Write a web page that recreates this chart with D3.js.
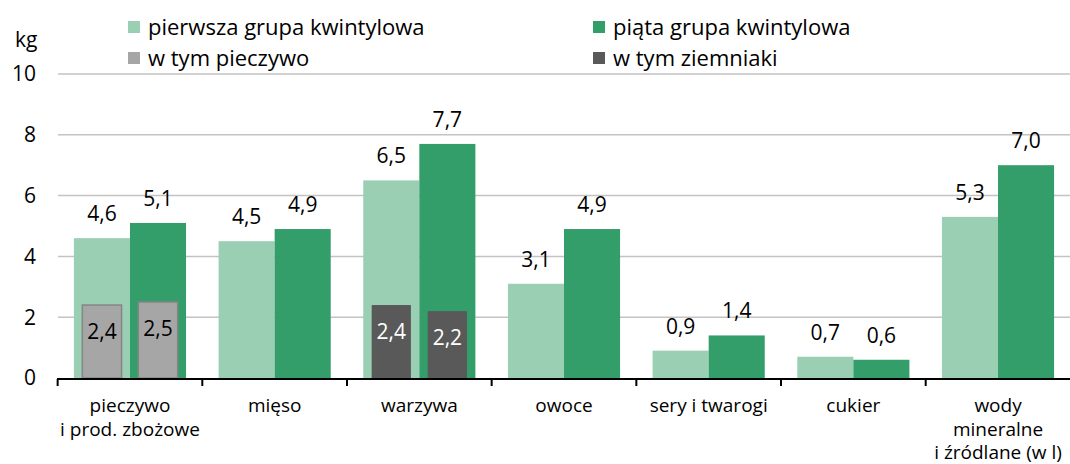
<!DOCTYPE html>
<html>
<head>
<meta charset="utf-8">
<script src="https://cdn.jsdelivr.net/npm/d3@7"></script>
<style>
  body { margin: 0; background: #fff; }
  svg { display: block; font-family: "Open Sans", sans-serif; }
</style>
</head>
<body>
<svg id="chart" width="1070" height="464"></svg>
<script>
// data
let categories = ['pieczywo\ni prod. zbożowe', 'mięso', 'warzywa', 'owoce', 'sery i twarogi', 'cukier', 'wody\nmineralne\ni źródlane (w l)']
let firstQuintile = [4.6, 4.5, 6.5, 3.1, 0.9, 0.7, 5.3]
let fifthQuintile = [5.1, 4.9, 7.7, 4.9, 1.4, 0.6, 7.0]
let breadCategory = 'pieczywo\ni prod. zbożowe'
let breadValues = [2.4, 2.5]
let potatoCategory = 'warzywa'
let potatoValues = [2.4, 2.2]
let yTicks = [0, 2, 4, 6, 8, 10]
let seriesNames = ['pierwsza grupa kwintylowa', 'piąta grupa kwintylowa', 'w tym pieczywo', 'w tym ziemniaki']

let colors = {
    light: '#9acfb4',
    dark: '#339e69',
    bread: '#a6a6a6',
    potato: '#595959'
}

let svg = d3.select('#chart')

let x = d3.scaleBand()
    .domain(categories)
    .range([58, 1070])
    .paddingInner(0.225)
    .paddingOuter(0.11)

let sub = d3.scaleBand()
    .domain(['q1', 'q5'])
    .range([0, x.bandwidth()])

let y = d3.scaleLinear()
    .domain([0, 10])
    .range([378, 74])

let fmt = (v) => d3.format('.1f')(v).replace('.', ',')

// gridlines
svg.append('g')
    .selectAll('line')
    .data(yTicks.filter(t => t > 0))
    .enter()
    .append('line')
    .attr('x1', 58)
    .attr('x2', 1070)
    .attr('y1', d => y(d))
    .attr('y2', d => y(d))
    .attr('stroke', '#c3c3c3')
    .attr('stroke-width', 1.5)

// y tick labels
svg.append('g')
    .selectAll('text')
    .data(yTicks)
    .enter()
    .append('text')
    .attr('x', 36)
    .attr('y', d => y(d))
    .attr('dy', '0.35em')
    .attr('text-anchor', 'end')
    .attr('font-size', 21)
    .attr('fill', '#000')
    .text(d => d)

svg.append('text')
    .attr('x', 15)
    .attr('y', 47)
    .attr('font-size', 21)
    .text('kg')

// main bars
let rows = categories.map((c, i) => ({ cat: c, q1: firstQuintile[i], q5: fifthQuintile[i] }))

let groups = svg.append('g')
    .selectAll('g')
    .data(rows)
    .enter()
    .append('g')
    .attr('transform', d => 'translate(' + x(d.cat) + ',0)')

groups.selectAll('rect')
    .data(d => [{ key: 'q1', value: d.q1 }, { key: 'q5', value: d.q5 }])
    .enter()
    .append('rect')
    .attr('x', d => sub(d.key))
    .attr('y', d => y(d.value))
    .attr('width', sub.bandwidth())
    .attr('height', d => y(0) - y(d.value))
    .attr('fill', d => d.key === 'q1' ? colors.light : colors.dark)

groups.selectAll('text')
    .data(d => [{ key: 'q1', value: d.q1 }, { key: 'q5', value: d.q5 }])
    .enter()
    .append('text')
    .attr('x', d => sub(d.key) + sub.bandwidth() / 2)
    .attr('y', d => y(d.value) - 17)
    .attr('text-anchor', 'middle')
    .attr('font-size', 21)
    .attr('fill', '#000')
    .text(d => fmt(d.value))

// inner bars (w tym ...)
let inner = [
    { cat: breadCategory, key: 'q1', value: breadValues[0], fill: colors.bread, stroke: '#858585', text: '#000' },
    { cat: breadCategory, key: 'q5', value: breadValues[1], fill: colors.bread, stroke: '#858585', text: '#000' },
    { cat: potatoCategory, key: 'q1', value: potatoValues[0], fill: colors.potato, stroke: 'none', text: '#fff' },
    { cat: potatoCategory, key: 'q5', value: potatoValues[1], fill: colors.potato, stroke: 'none', text: '#fff' }
]
let innerW = sub.bandwidth() * 0.7

svg.append('g')
    .selectAll('rect')
    .data(inner)
    .enter()
    .append('rect')
    .attr('x', d => x(d.cat) + sub(d.key) + (sub.bandwidth() - innerW) / 2)
    .attr('y', d => y(d.value))
    .attr('width', innerW)
    .attr('height', d => y(0) - y(d.value))
    .attr('fill', d => d.fill)
    .attr('stroke', d => d.stroke)
    .attr('stroke-width', 1.5)

svg.append('g')
    .selectAll('text')
    .data(inner)
    .enter()
    .append('text')
    .attr('x', d => x(d.cat) + sub(d.key) + sub.bandwidth() / 2)
    .attr('y', d => y(d.value) + 34)
    .attr('text-anchor', 'middle')
    .attr('font-size', 21)
    .attr('fill', d => d.text)
    .text(d => fmt(d.value))

// x axis
let step = x.step()
svg.append('line')
    .attr('x1', 57)
    .attr('x2', 1070)
    .attr('y1', 379)
    .attr('y2', 379)
    .attr('stroke', '#000')
    .attr('stroke-width', 2)

svg.append('g')
    .selectAll('line')
    .data(categories)
    .enter()
    .append('line')
    .attr('x1', d => x(d) + x.bandwidth() / 2 - step / 2)
    .attr('x2', d => x(d) + x.bandwidth() / 2 - step / 2)
    .attr('y1', 379)
    .attr('y2', 386)
    .attr('stroke', '#000')
    .attr('stroke-width', 2)

let xLabels = svg.append('g')
    .selectAll('text')
    .data(categories)
    .enter()
    .append('text')
    .attr('x', d => x(d) + x.bandwidth() / 2)
    .attr('y', 412)
    .attr('text-anchor', 'middle')
    .attr('font-size', 19)
    .attr('fill', '#000')

xLabels.selectAll('tspan')
    .data(d => d.split('\n'))
    .enter()
    .append('tspan')
    .attr('x', function () { return d3.select(this.parentNode).attr('x') })
    .attr('dy', (d, i) => i === 0 ? 0 : 23.5)
    .text(d => d)

// legend
let legendPos = [[128, 27], [593, 27], [128, 58], [593, 58]]
let legendColors = [colors.light, colors.dark, colors.bread, colors.potato]

let legend = svg.append('g')
    .selectAll('g')
    .data(seriesNames)
    .enter()
    .append('g')
    .attr('transform', (d, i) => 'translate(' + legendPos[i][0] + ',' + legendPos[i][1] + ')')

legend.append('rect')
    .attr('x', 0)
    .attr('y', -6)
    .attr('width', 12)
    .attr('height', 12)
    .attr('fill', (d, i) => legendColors[i])

legend.append('text')
    .attr('x', 20)
    .attr('y', 0)
    .attr('dy', '0.35em')
    .attr('font-size', 22)
    .attr('fill', '#000')
    .text(d => d)
</script>
</body>
</html>
